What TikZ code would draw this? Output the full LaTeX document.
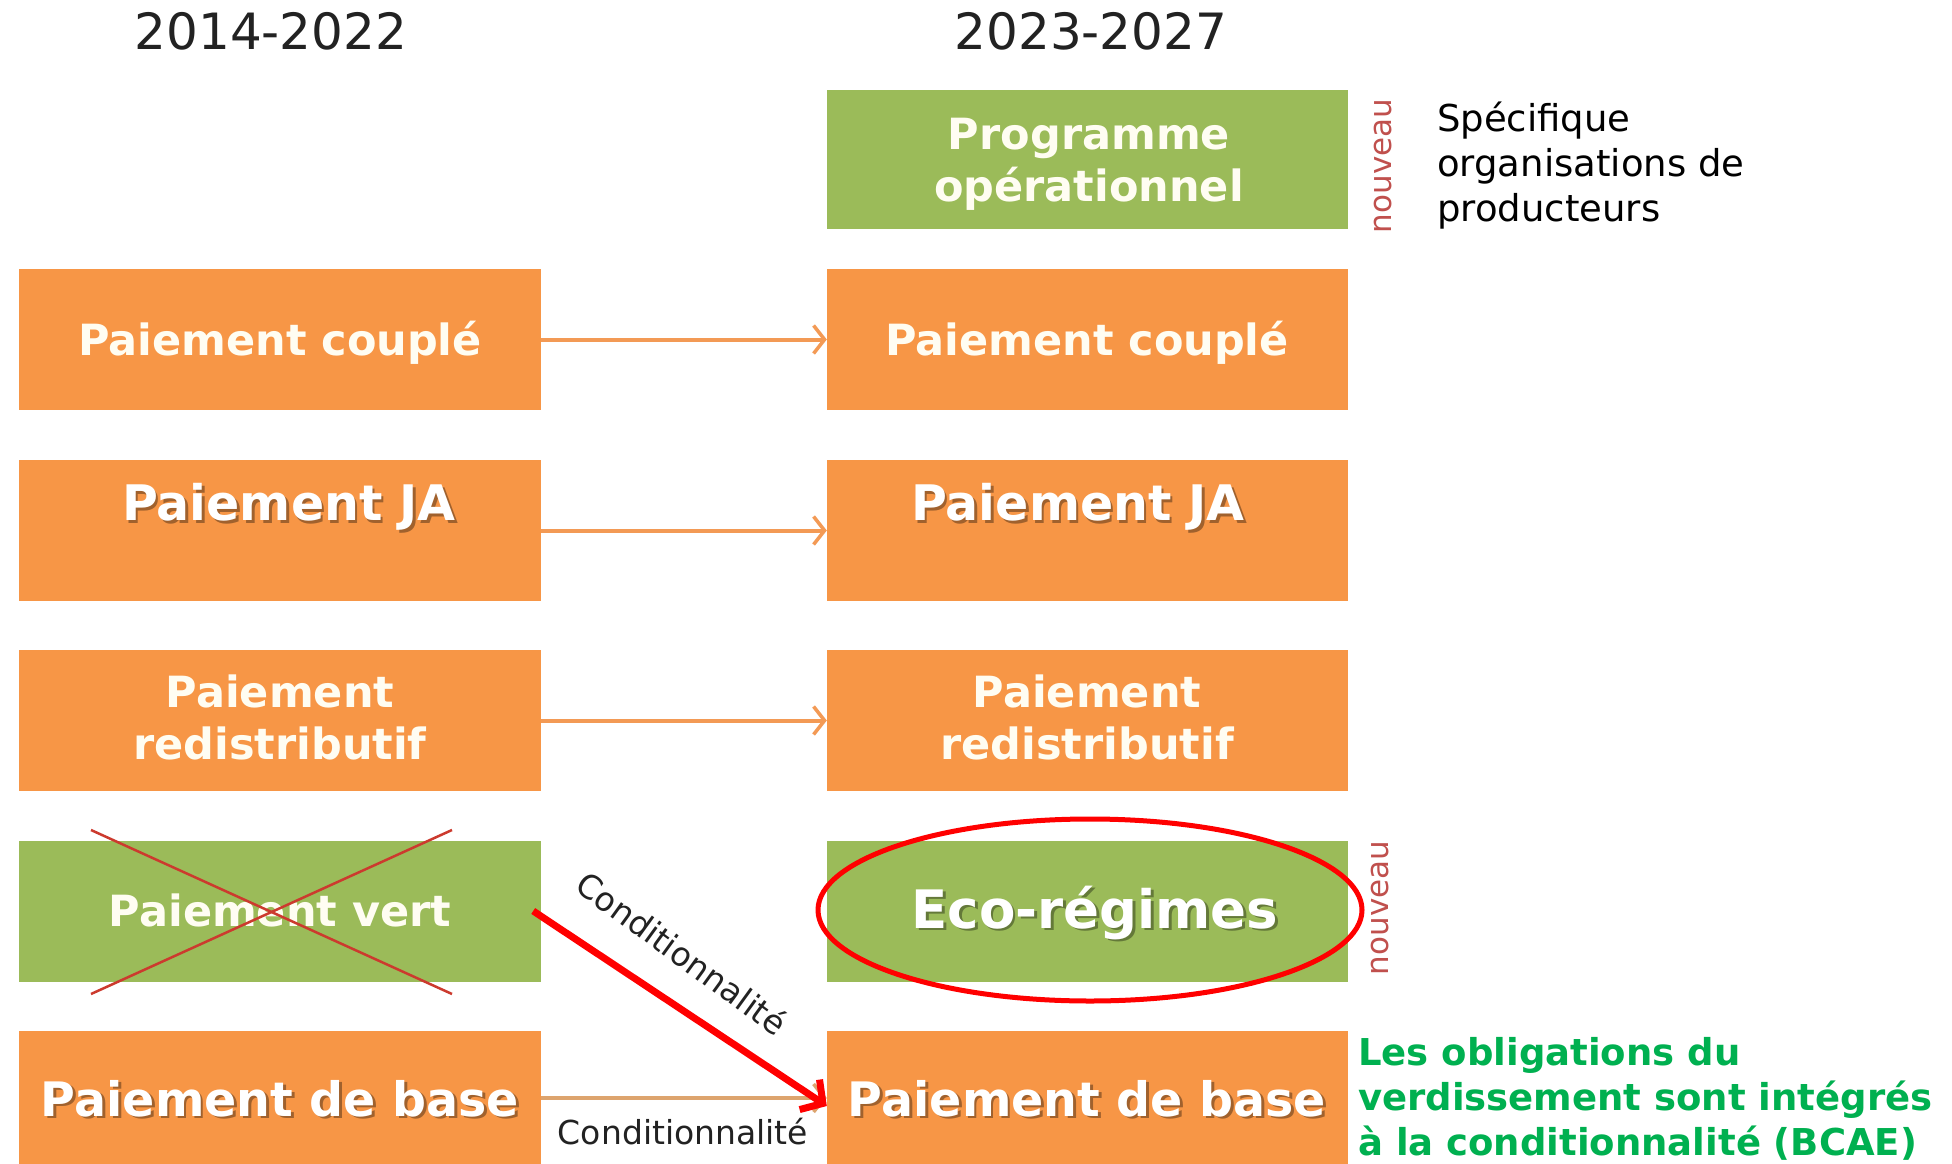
\documentclass[tikz,border=0pt]{standalone}
\usepackage{fontspec}
\setmainfont{DejaVu Sans}
\usetikzlibrary{arrows.meta}
\definecolor{orng}{HTML}{F79646}
\definecolor{grn}{HTML}{9BBB59}
\definecolor{txtgreen}{HTML}{00B050}
\definecolor{nouv}{HTML}{C0504D}
\definecolor{connc}{HTML}{F39A55}
\definecolor{tanc}{HTML}{DDA46E}
\definecolor{crossc}{HTML}{CC3A2E}
\definecolor{boxtxt}{HTML}{FFFDF2}
\definecolor{titc}{HTML}{222222}
\newcommand\shlabel[4]{%
  \node[#3,text=black,opacity=.35,xshift=2.5pt,yshift=-2.5pt] at (#2) {#4};
  \node[#3] (#1) at (#2) {#4};}
\begin{document}
\begin{tikzpicture}[x=1pt,y=-1pt,
  box/.style={rectangle,inner sep=0pt,minimum width=522pt,minimum height=141pt},
  obox/.style={box,fill=orng},
  gbox/.style={box,fill=grn},
  btxt/.style={font=\fontsize{43}{52}\selectfont\bfseries,text=boxtxt,align=center,inner sep=0pt},
  bigtxt/.style={btxt,text=white},
  ctr/.style={text height=#1,text depth=0pt},
  conn/.style={draw=connc,line width=4pt,-{Straight Barb[length=11pt,width=28pt,line width=3.5pt]}},
  redarr/.style={draw=red,line width=7pt,-{Straight Barb[length=16pt,width=36pt,line width=7pt]}},
  crossline/.style={draw=crossc,line width=2.5pt},
  title/.style={font=\fontsize{50}{60}\selectfont,text=titc,inner sep=0pt,ctr=36.5pt},
  nouveaulbl/.style={font=\fontsize{31}{36}\selectfont,text=nouv,rotate=90,inner sep=0pt},
  condlbl/.style={font=\fontsize{33}{40}\selectfont,text=titc,inner sep=0pt},
  note/.style={font=\fontsize{37}{45}\selectfont,align=left,inner sep=0pt,anchor=west}
]
\useasboundingbox (0,0) rectangle (1952,1164);
\clip (0,0) rectangle (1952,1164);
\fill[white] (0,0) rectangle (1952,1164);

% titles
\node[title] (t1) at (271,31) {2014-2022};
\node[title] (t2) at (1091,31) {2023-2027};

% boxes
\node[gbox,minimum height=139pt,minimum width=521pt] (r1) at (1087.5,159.5) {};
\node[obox] (l2) at (280,339.5) {};
\node[obox,minimum width=521pt] (r2) at (1087.5,339.5) {};
\node[obox] (l3) at (280,530.5) {};
\node[obox,minimum width=521pt] (r3) at (1087.5,530.5) {};
\node[obox] (l4) at (280,720.5) {};
\node[obox,minimum width=521pt] (r4) at (1087.5,720.5) {};
\node[gbox] (l5) at (280,911) {};
\node[gbox,minimum width=521pt] (r5) at (1087.5,911) {};
\node[obox,minimum height=134pt] (l6) at (280,1098) {};
\node[obox,minimum height=134pt,minimum width=521pt] (r6) at (1087.5,1098) {};

% box texts
\node[btxt] (tr1) at (1089,164) {Programme\\opérationnel};
\node[btxt,ctr=31.4pt] (tl2) at (280,340) {Paiement couplé};
\node[btxt,ctr=31.4pt] (tr2) at (1087,340) {Paiement couplé};
\shlabel{tl3}{289,503}{bigtxt,ctr=35.8pt,font=\fontsize{49}{58}\selectfont\bfseries}{Paiement JA}
\shlabel{tr3}{1078,503}{bigtxt,ctr=35.8pt,font=\fontsize{49}{58}\selectfont\bfseries}{Paiement JA}
\node[btxt] (tl4) at (280,717) {Paiement\\redistributif};
\node[btxt] (tr4) at (1087,717) {Paiement\\redistributif};
\node[btxt,ctr=31.4pt] (tl5) at (280,911) {Paiement vert};
\shlabel{tr5}{1095,909}{bigtxt,ctr=38.7pt,font=\fontsize{53}{62}\selectfont\bfseries}{Eco-régimes}
\shlabel{tl6}{280,1099}{bigtxt,ctr=34.7pt,font=\fontsize{47.5}{56}\selectfont\bfseries}{Paiement de base}
\shlabel{tr6}{1087,1099}{bigtxt,ctr=34.7pt,font=\fontsize{47.5}{56}\selectfont\bfseries}{Paiement de base}

% cross over Paiement vert
\draw[crossline] (91,830) -- (452,994);
\draw[crossline] (91,994) -- (452,830);

% connectors
\draw[conn] (l2.east) -- (r2.west);
\draw[conn] (l3.east) -- (r3.west);
\draw[conn] (l4.east) -- (r4.west);
\draw[conn,draw=tanc] (l6.east) -- (r6.west);
\draw[redarr] ([xshift=-8pt]l5.east) -- ([yshift=-8pt]r6.west);

% ellipse
\draw[red,line width=5pt] (1090,910) ellipse [x radius=272pt,y radius=91pt];

% side labels
\node[nouveaulbl] (n1) at (1383,166) {nouveau};
\node[nouveaulbl] (n2) at (1380,908) {nouveau};
\node[note] (spec) at (1437,166) {Spécifique\\organisations de\\producteurs};
\node[note,font=\fontsize{37}{45}\selectfont\bfseries,text=txtgreen] (green) at (1358,1099) {Les obligations du\\verdissement sont intégrés\\à la conditionnalité (BCAE)};

% conditionnalité labels
\node[condlbl,rotate=-36] (c1) at (682,953) {Conditionnalité};
\node[condlbl] (c2) at (683,1132) {Conditionnalité};
\end{tikzpicture}
\end{document}
